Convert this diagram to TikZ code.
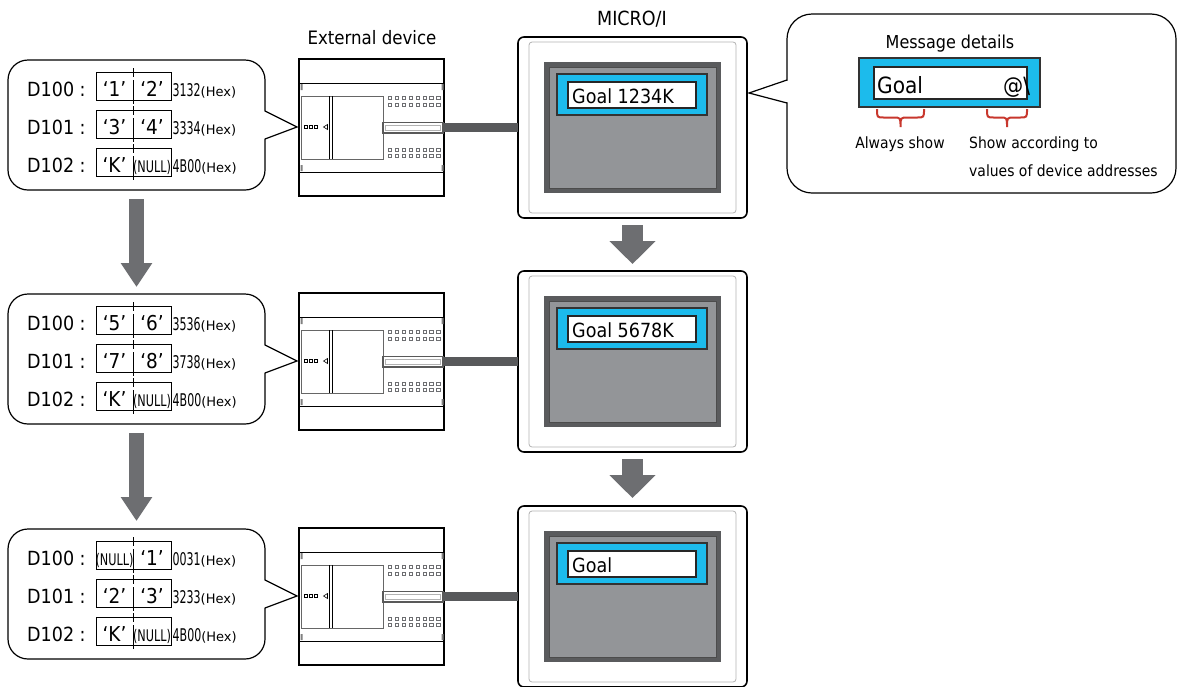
\documentclass[tikz,border=0pt]{standalone}
\usepackage{fontspec}
\usepackage{graphicx}
\setmainfont{DejaVu Sans Condensed}
\newfontfamily\widefont{DejaVu Sans}
\usetikzlibrary{arrows.meta}

\definecolor{cablegray}{HTML}{58595B}
\definecolor{arrowgray}{HTML}{6D6E71}
\definecolor{framedark}{HTML}{5A5B5D}
\definecolor{screengray}{HTML}{939598}
\definecolor{btnblue}{HTML}{1CBBEC}
\definecolor{bracered}{HTML}{C8372D}
\definecolor{dotgray}{HTML}{6D6E71}

\newcommand\fs[1]{\fontsize{#1}{#1}\selectfont}
\newcommand\hexval[1]{{\fs{17.5}\scalebox{0.7}[1]{#1}}{\widefont\fs{13}(Hex)}}
\newcommand\nul{\scalebox{0.78}[1]{\fs{16}(NULL)}}

\tikzset{
  lbl/.style={font=\fs{19.5}, inner sep=0pt},
  celltxt/.style={font=\fs{20.5}, inner sep=0pt},
  hextxt/.style={inner sep=0pt},
  cellbox/.style={draw, line width=1pt, inner sep=0pt, outer sep=0pt, minimum width=75pt, minimum height=28pt},
  celldiv/.style={line width=1.6pt, dash pattern=on 9pt off 3pt on 40pt off 1pt},
  bubblebox/.style={draw, line width=1.2pt, rounded corners=20pt, fill=white, inner sep=0pt, outer sep=0pt},
  devbox/.style={draw, line width=2pt, inner sep=0pt, outer sep=0pt, minimum width=145pt, minimum height=137pt},
  panelbox/.style={draw, line width=1.6pt, rounded corners=6pt, inner sep=0pt, outer sep=0pt, minimum width=229pt, minimum height=181pt},
  btnbox/.style={draw=black!80, fill=btnblue, line width=1.2pt, inner sep=0pt, outer sep=0pt, minimum width=150pt, minimum height=41pt},
  fieldbox/.style={draw=black!85, fill=white, line width=1.5pt, inner sep=0pt, outer sep=0pt, minimum width=128pt, minimum height=26pt},
  cable/.style={line width=9pt, draw=cablegray},
  stepL/.style={line width=15pt, draw=arrowgray, -{Triangle[width=30pt,length=24pt]}},
  stepR/.style={line width=21pt, draw=arrowgray, -{Triangle[width=45pt,length=23pt]}},
  bracepath/.style={draw=bracered, line width=2pt},
  small/.style={font=\fs{15.5}, inner sep=0pt},
}

% one register row: name, row y, label, left byte, right byte, hex value
\newcommand\regrow[6]{%
  \node[lbl, anchor=base west] (#1lbl) at (27,#2+7) {#3};
  \node[cellbox, anchor=north west] (#1box) at (96,#2-17) {};
  \draw[celldiv] ([yshift=4pt]#1box.north) -- ([yshift=-4pt]#1box.south);
  \node[celltxt, anchor=base] (#1l) at (114.5,#2+7) {#4};
  \node[celltxt, anchor=base] (#1r) at (152,#2+7) {#5};
  \node[hextxt, anchor=base west] (#1hex) at (172.5,#2+7) {\hexval{#6}};
}

% bubble, controller, display and cable of one stage
\newcommand\stageframe[2]{%
  \node[bubblebox, minimum width=257pt, minimum height=130pt, anchor=north west] (bub#1) at (8,60) {};
  \coordinate (tip#1) at (297,127);
  \fill[white] (263.5,111) -- (tip#1) -- (263.5,139) -- cycle;
  \draw[line width=1.2pt] (265,111) -- (tip#1) -- (265,139);
  % controller
  \node[devbox, anchor=north west] (dev#1) at (299,59) {};
  \draw[line width=1pt] (300,83) -- (443,83) (300,172) -- (443,172);
  \fill[gray] (300.5,84) rectangle (302.5,90) (441.5,84) rectangle (443.5,90)
              (300.5,165) rectangle (302.5,171) (441.5,165) rectangle (443.5,171);
  \draw[gray!80!black, line width=0.9pt] (301,96) rectangle (383,159);
  \draw[line width=0.9pt] (329,96) -- (329,159) (332.5,96) -- (332.5,159);
  \foreach \k in {0,1,2} \draw[line width=0.6pt] (304.5+\k*5,125.5) rectangle ++(3,3);
  \draw[line width=0.6pt] (327.5,124.5) -- (323.5,127) -- (327.5,129.5) -- cycle;
  \foreach \k in {0,...,7} \foreach \yy in {98,104.5,149.5,156}
    \draw[dotgray, line width=0.7pt] (388+\k*6.97,\yy-1.6) rectangle ++(3.2,3.2);
  \draw[gray!70!black, line width=1.1pt, fill=white] (383,122.5) rectangle (443,133);
  \draw[gray!60, line width=0.6pt] (385.5,125) rectangle (440.5,130.5);
  % display
  \node[panelbox, anchor=north west] (pan#1) at (518,37) {};
  \draw[gray!60, line width=0.8pt, rounded corners=3pt] (529,42) rectangle (736,213);
  \fill[framedark] (544,62) rectangle (721,193);
  \fill[screengray] (549,67) rectangle (716,188);
  \draw[black!70, line width=0.6pt] (549,67) rectangle (716,188);
  \node[btnbox, anchor=north west] (btn#1) at (557,74) {};
  \node[fieldbox, anchor=north west] (fld#1) at (568,82) {};
  \node[lbl, anchor=base west] (val#1) at (572,103) {#2};
  \draw[cable] (dev#1.east) -- (pan#1.west);
}

% downward curly brace under a span of the message field
\newcommand\spanbrace[3]{%
  \draw[bracepath] (#2,109) .. controls (#2,117.5) .. (#2+7,117.5)
    -- ({(#2+#3)/2-7},117.5) .. controls ({(#2+#3)/2},117.5) .. ({(#2+#3)/2},127)
    .. controls ({(#2+#3)/2},117.5) .. ({(#2+#3)/2+7},117.5)
    -- (#3-7,117.5) .. controls (#3,117.5) .. (#3,109);
  \coordinate (#1) at ({(#2+#3)/2},127);
}

\begin{document}
\begin{tikzpicture}[x=1pt, y=-1pt]
  \useasboundingbox (0,0) rectangle (1177,686);

  % headings
  \node[font=\fs{18.5}, inner sep=0pt, anchor=base] (devtitle) at (372,44.5) {External device};
  \node[lbl, anchor=base] (pantitle) at (632,25) {MICRO/I};

  % stage 1
  \begin{scope}
    \stageframe{1}{Goal 1234K}
    \regrow{a1}{89}{D100 :}{‘1’}{‘2’}{3132}
    \regrow{a2}{127}{D101 :}{‘3’}{‘4’}{3334}
    \regrow{a3}{165}{D102 :}{‘K’}{\nul}{4B00}
  \end{scope}

  % stage 2
  \begin{scope}[shift={(0,234)}]
    \stageframe{2}{Goal 5678K}
    \regrow{b1}{89}{D100 :}{‘5’}{‘6’}{3536}
    \regrow{b2}{127}{D101 :}{‘7’}{‘8’}{3738}
    \regrow{b3}{165}{D102 :}{‘K’}{\nul}{4B00}
  \end{scope}

  % stage 3
  \begin{scope}[shift={(0,469)}]
    \stageframe{3}{Goal}
    \regrow{c1}{89}{D100 :}{\nul}{‘1’}{0031}
    \regrow{c2}{127}{D101 :}{‘2’}{‘3’}{3233}
    \regrow{c3}{165}{D102 :}{‘K’}{\nul}{4B00}
  \end{scope}

  % progression arrows
  \draw[stepL] ([yshift=-9pt]bub1.south) -- ([yshift=7pt]bub2.north);
  \draw[stepL] ([yshift=-9pt]bub2.south) -- ([yshift=8pt]bub3.north);
  \draw[stepR] ([yshift=-7pt]pan1.south) -- ([yshift=7pt]pan2.north);
  \draw[stepR] ([yshift=-7pt]pan2.south) -- ([yshift=8pt]pan3.north);

  % message details callout
  \node[bubblebox, rounded corners=25pt, minimum width=389pt, minimum height=179pt, anchor=north west] (msg) at (787,14) {};
  \coordinate (msgtip) at (749,93);
  \fill[white] (788.5,80.5) -- (msgtip) -- (788.5,102.5) -- cycle;
  \draw[line width=1.2pt] (787,80) -- (msgtip) -- (787,103);
  \node[font=\fs{17.8}, inner sep=0pt, anchor=base] (msgtitle) at (950,48.5) {Message details};
  \node[btnbox, minimum width=181pt, minimum height=49pt, anchor=north west] (msgbtn) at (859,58) {};
  \node[fieldbox, line width=2pt, minimum width=153pt, minimum height=32pt, anchor=north west] (msgfld) at (874,67) {};
  \node[font=\fs{22.4}, inner sep=0pt, anchor=base west] (msggoal) at (877,93) {Goal};
  \node[font=\fs{22.4}, inner sep=0pt, anchor=base west] (msgat) at (1003,93) {@\textbackslash};
  \spanbrace{brA}{877}{924}
  \spanbrace{brB}{987}{1027}
  \node[small, anchor=base] (always) at (900,148.5) {Always show};
  \node[small, anchor=base west] (showa) at (969,148.5) {Show according to};
  \node[small, anchor=base west] (showb) at (969,176.5) {values of device addresses};
\end{tikzpicture}
\end{document}
